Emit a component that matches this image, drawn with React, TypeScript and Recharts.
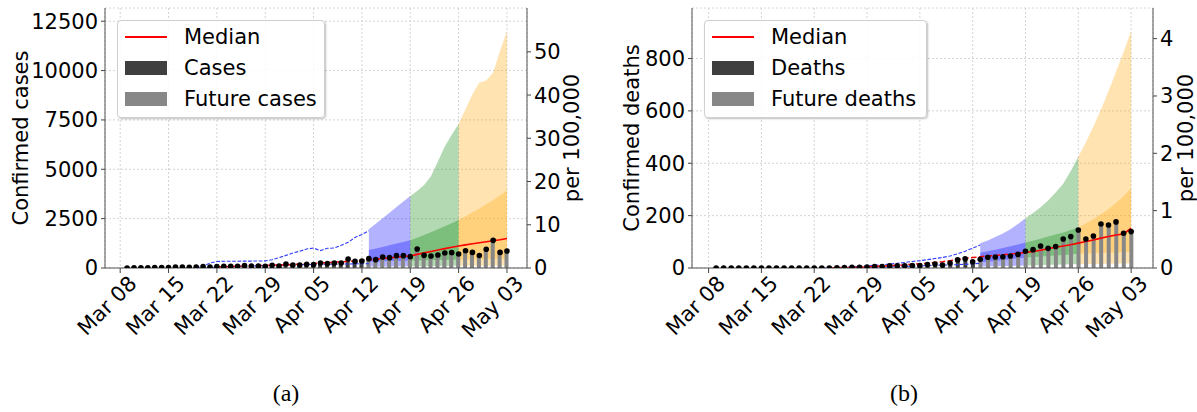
import React from "react";
import {
  ComposedChart,
  Area,
  Bar,
  Line,
  XAxis,
  YAxis,
  CartesianGrid,
  Label,
} from "recharts";

// Day 0 is Mar 08; observations run from Mar 09 (day 1) to May 03 (day 56)
const TICK_DAYS = [0, 7, 14, 21, 28, 35, 42, 49, 56];
const TICK_LABELS = ["Mar 08", "Mar 15", "Mar 22", "Mar 29", "Apr 05", "Apr 12", "Apr 19", "Apr 26", "May 03"];
const FIRST_DAY = 1;
const FORECAST_DAY = 36; // Apr 13
const MEDIAN_DAY = 42; // Apr 19
const POPULATION = 21900000;

// weekly forecast windows and their colours
const WEEKS = [
  { from: 36, to: 42, color: "#0000ff" },
  { from: 42, to: 49, color: "#008000" },
  { from: 49, to: 56, color: "#ffa500" },
];

const cases = [
  3, 5, 7, 10, 17, 17, 20, 50, 50, 35, 50, 68, 50, 68, 85, 85, 85, 118, 101, 101,
  85, 135, 101, 203, 152, 152, 186, 169, 253, 220, 253, 253, 456, 338, 355, 473, 422, 558, 524, 625,
  625, 575, 960, 642, 608, 659, 760, 777, 710, 870, 790, 630, 950, 1400, 790, 860,
];
const casesMedianPast = [
  60, 68, 76, 85, 95, 105, 115, 127, 140, 152, 165, 180, 195, 210, 228, 248, 268, 290, 312, 336,
  362, 390, 418, 447, 478, 510, 543, 578, 612,
]; // days 14..42
const casesMedian = [612, 690, 765, 840, 910, 980, 1050, 1115, 1170, 1225, 1280, 1330, 1380, 1430, 1490]; // days 42..56
const casesPrevHi = [
  0, 90, 250, 330, 340, 345, 345, 350, 350, 355, 360, 420, 520, 640, 760, 850, 960, 1010, 880, 1000,
  1010, 1150, 1300, 1550, 1700, 1890,
]; // days 11..36
const casesPrevLo = [
  0, 15, 35, 50, 65, 75, 85, 95, 105, 115, 125, 135, 145, 155, 160, 170, 175, 180, 185, 190,
  195, 200, 205, 210, 215, 220,
];
// forecast intervals, days 36..56
const casesHi95 = [1960, 2240, 2520, 2800, 3090, 3370, 3650, 3900, 4200, 4650, 5400, 6150, 6750, 7300, 8050, 8800, 9400, 9500, 9900, 11000, 12000];
const casesHi50 = [910, 990, 1070, 1150, 1240, 1320, 1400, 1530, 1670, 1810, 1960, 2110, 2270, 2430, 2620, 2820, 3020, 3230, 3450, 3680, 3920];
const casesLo50 = [330, 335, 345, 350, 360, 370, 380, 385, 390, 400, 405, 410, 420, 425, 430, 440, 445, 450, 455, 465, 470];
const casesLo95 = [70, 72, 75, 78, 80, 85, 90, 92, 95, 98, 100, 104, 108, 110, 112, 115, 118, 120, 122, 125, 128];

const deaths = [
  0, 0, 0, 0, 0, 0, 0, 0, 0, 0, 0, 0, 0, 0, 0, 0, 1, 2, 3, 3,
  4, 6, 6, 8, 8, 8, 9, 9, 13, 15, 11, 19, 31, 35, 24, 33, 41, 42, 43, 46,
  52, 64, 70, 84, 75, 82, 111, 120, 145, 111, 122, 168, 164, 176, 133, 139,
];
const deathsMedianPast = [
  0, 1, 1, 2, 3, 4, 6, 7, 9, 10, 12, 14, 16, 18, 21, 24, 28, 32, 36, 40,
  43, 46, 48, 51, 53, 56, 59,
]; // days 16..42
const deathsMedian = [59, 63, 68, 74, 79, 84, 89, 95, 101, 107, 114, 120, 126, 130, 152]; // days 42..56
const deathsPrevHi = [0, 1, 2, 3, 4, 6, 8, 10, 12, 15, 18, 21, 25, 28, 32, 36, 40, 46, 54, 64, 76, 88]; // days 15..36
const deathsPrevLo = [0, 0, 1, 1, 2, 2, 3, 3, 4, 4, 5, 6, 7, 8, 9, 10, 11, 12, 13, 14, 16, 18];
const deathsHi95 = [95, 105, 118, 132, 148, 168, 190, 210, 232, 258, 288, 322, 370, 425, 480, 540, 605, 675, 750, 825, 905];
const deathsHi50 = [58, 64, 70, 76, 83, 90, 97, 104, 112, 120, 128, 136, 145, 155, 170, 187, 205, 225, 248, 275, 305];
const deathsLo50 = [22, 24, 27, 30, 33, 36, 40, 42, 44, 46, 48, 50, 52, 54, 55, 56, 57, 58, 59, 60, 61];
const deathsLo95 = [6, 6, 7, 8, 8, 9, 10, 10, 11, 12, 12, 13, 14, 14, 15, 15, 16, 16, 17, 17, 18];

const FONT = "'DejaVu Sans', sans-serif";
const FONT_SIZE = 21;
const X_DOMAIN = [-2.2, 58.9];

type Series = {
  observed: number[];
  medianPast: number[];
  medianPastStart: number;
  median: number[];
  prevHi: number[];
  prevLo: number[];
  prevStart: number;
  hi95: number[];
  lo95: number[];
  hi50: number[];
  lo50: number[];
};

function buildRows(s: Series) {
  const rows: any[] = [];
  s.observed.forEach((v, i) => {
    const day = FIRST_DAY + i;
    const row: any = { day, value: v, perCapita: (v / POPULATION) * 1e5 };
    if (day < FORECAST_DAY) row.past = v;
    else row.future = v;
    const mp = day - s.medianPastStart;
    if (mp >= 0 && mp < s.medianPast.length) row.medianPast = s.medianPast[mp];
    const mf = day - MEDIAN_DAY;
    if (mf >= 0 && mf < s.median.length) row.median = s.median[mf];
    const pv = day - s.prevStart;
    if (pv >= 0 && pv < s.prevHi.length) {
      row.prevHi = s.prevHi[pv];
      row.prevLo = s.prevLo[pv];
    }
    const f = day - FORECAST_DAY;
    if (f >= 0) {
      WEEKS.forEach((w, k) => {
        if (day >= w.from && day <= w.to) {
          row[`outer${k}`] = [s.lo95[f], s.hi95[f]];
          row[`inner${k}`] = [s.lo50[f], s.hi50[f]];
        }
      });
    }
    rows.push(row);
  });
  return rows;
}

const caseRows = buildRows({
  observed: cases,
  medianPast: casesMedianPast,
  medianPastStart: 14,
  median: casesMedian,
  prevHi: casesPrevHi,
  prevLo: casesPrevLo,
  prevStart: 11,
  hi95: casesHi95,
  lo95: casesLo95,
  hi50: casesHi50,
  lo50: casesLo50,
});

const deathRows = buildRows({
  observed: deaths,
  medianPast: deathsMedianPast,
  medianPastStart: 16,
  median: deathsMedian,
  prevHi: deathsPrevHi,
  prevLo: deathsPrevLo,
  prevStart: 15,
  hi95: deathsHi95,
  lo95: deathsLo95,
  hi50: deathsHi50,
  lo50: deathsLo50,
});

function DateTick(props: any) {
  const { x, y, payload } = props;
  const idx = TICK_DAYS.indexOf(payload.value);
  return (
    <g transform={`translate(${x + 7},${y - 1})`}>
      <text
        x={0}
        y={0}
        textAnchor="end"
        dominantBaseline="hanging"
        transform="rotate(-45)"
        fontSize={FONT_SIZE}
        fontFamily={FONT}
        fill="#000"
      >
        {TICK_LABELS[idx]}
      </text>
    </g>
  );
}

function axisTitle(text: string, x: number) {
  return (props: any) => {
    const vb = props.viewBox;
    const cy = vb.y + vb.height / 2;
    return (
      <text
        x={x}
        y={cy}
        transform={`rotate(-90, ${x}, ${cy})`}
        textAnchor="middle"
        dominantBaseline="central"
        fontSize={FONT_SIZE}
        fontFamily={FONT}
        fill="#000"
      >
        {text}
      </text>
    );
  };
}

type PanelProps = {
  rows: any[];
  left: number;
  width: number;
  leftAxisWidth: number;
  rightAxisWidth: number;
  yMax: number;
  yTicks: number[];
  rightTicks: number[];
  yTitle: string;
  yTitleX: number;
  rightTitleX: number;
  legendNames: string[];
  legendWidth: number;
};

function Legendbox({ names, left, width }: { names: string[]; left: number; width: number }) {
  const swatch = (i: number) => {
    if (i === 0) return <div style={{ width: 42, height: 2, background: "#ff0000" }} />;
    return <div style={{ width: 42, height: 14, background: i === 1 ? "#3f3f3f" : "#878787" }} />;
  };
  return (
    <div
      style={{
        position: "absolute",
        left,
        top: 20,
        width,
        height: 98,
        boxSizing: "border-box",
        border: "1px solid #d0d0d0",
        borderRadius: 4,
        background: "rgba(255,255,255,0.85)",
        boxShadow: "1px 1px 2px rgba(0,0,0,0.25)",
        fontFamily: FONT,
        fontSize: FONT_SIZE,
        color: "#000",
      }}
    >
      {names.map((n, i) => (
        <div
          key={n}
          style={{ position: "absolute", left: 7, top: 4 + i * 31, height: 24, display: "flex", alignItems: "center" }}
        >
          {swatch(i)}
          <span style={{ marginLeft: 17, whiteSpace: "nowrap" }}>{n}</span>
        </div>
      ))}
    </div>
  );
}

function Panel(p: PanelProps) {
  const rightMax = (p.yMax / POPULATION) * 1e5;
  const tickStyle = { fontSize: FONT_SIZE, fontFamily: FONT, fill: "#000" };
  return (
    <div style={{ position: "absolute", left: p.left, top: 0, width: p.width, height: 360 }}>
      <ComposedChart
        width={p.width}
        height={360}
        data={p.rows}
        margin={{ top: 8, right: 0, bottom: 0, left: 0 }}
      >
        <CartesianGrid yAxisId="left" stroke="#d4d4d4" strokeDasharray="2 2" />
        <XAxis
          dataKey="day"
          type="number"
          domain={X_DOMAIN}
          ticks={TICK_DAYS}
          interval={0}
          allowDataOverflow
          height={92}
          tickSize={5}
          tickMargin={2}
          tickLine={{ stroke: "#444" }}
          axisLine={{ stroke: "#555" }}
          tick={<DateTick />}
        />
        <XAxis xAxisId="top" orientation="top" dataKey="day" type="number" domain={X_DOMAIN} allowDataOverflow height={0} tick={false} tickLine={false} axisLine={{ stroke: "#555" }} />
        <YAxis
          yAxisId="left"
          type="number"
          domain={[0, p.yMax]}
          ticks={p.yTicks}
          interval={0}
          allowDataOverflow
          width={p.leftAxisWidth}
          tickSize={4}
          tickMargin={3}
          tickLine={{ stroke: "#444" }}
          axisLine={{ stroke: "#555" }}
          tick={tickStyle}
        >
          <Label content={axisTitle(p.yTitle, p.yTitleX)} />
        </YAxis>
        <YAxis
          yAxisId="right"
          orientation="right"
          type="number"
          domain={[0, rightMax]}
          ticks={p.rightTicks}
          interval={0}
          allowDataOverflow
          width={p.rightAxisWidth}
          tickSize={4}
          tickMargin={3}
          tickLine={{ stroke: "#444" }}
          axisLine={{ stroke: "#555" }}
          tick={tickStyle}
        >
          <Label content={axisTitle("per 100,000", p.rightTitleX)} />
        </YAxis>

        {WEEKS.map((w, k) => (
          <Area
            key={`o${k}`}
            yAxisId="left"
            type="linear"
            dataKey={`outer${k}`}
            stroke="none"
            fill={w.color}
            fillOpacity={0.3}
            dot={false}
            activeDot={false}
            isAnimationActive={false}
          />
        ))}
        {WEEKS.map((w, k) => (
          <Area
            key={`i${k}`}
            yAxisId="left"
            type="linear"
            dataKey={`inner${k}`}
            stroke="none"
            fill={w.color}
            fillOpacity={0.3}
            dot={false}
            activeDot={false}
            isAnimationActive={false}
          />
        ))}

        <Bar yAxisId="left" dataKey="past" stackId="obs" barSize={4} fill="#3f3f3f" isAnimationActive={false} />
        <Bar yAxisId="left" dataKey="future" stackId="obs" barSize={4} fill="#878787" isAnimationActive={false} />

        <Line yAxisId="left" type="linear" dataKey="prevHi" stroke="#2f3dff" strokeWidth={1.1} strokeDasharray="3.7 1.6" dot={false} activeDot={false} isAnimationActive={false} />
        <Line yAxisId="left" type="linear" dataKey="prevLo" stroke="#2f3dff" strokeWidth={1.1} strokeDasharray="3.7 1.6" dot={false} activeDot={false} isAnimationActive={false} />
        <Line yAxisId="left" type="linear" dataKey="medianPast" stroke="#ff0000" strokeWidth={1.5} strokeDasharray="5.5 2.4" dot={false} activeDot={false} isAnimationActive={false} />
        <Line yAxisId="left" type="linear" dataKey="median" stroke="#ff0000" strokeWidth={1.6} dot={false} activeDot={false} isAnimationActive={false} />
        <Line yAxisId="right" type="linear" dataKey="perCapita" stroke="none" dot={false} activeDot={false} isAnimationActive={false} />
        <Line
          yAxisId="left"
          type="linear"
          dataKey="value"
          stroke="none"
          dot={{ r: 2.8, fill: "#000", stroke: "none" }}
          activeDot={false}
          isAnimationActive={false}
        />
      </ComposedChart>
      <Legendbox names={p.legendNames} left={p.leftAxisWidth + 12} width={p.legendWidth} />
    </div>
  );
}

const captionStyle: React.CSSProperties = {
  position: "absolute",
  top: 380,
  width: 60,
  textAlign: "center",
  fontFamily: "'Liberation Serif', serif",
  fontSize: 24,
  color: "#000",
};

export default function App() {
  return (
    <div style={{ position: "absolute", left: 0, top: 0, width: 1197, height: 412, background: "#fff", overflow: "hidden" }}>
      <Panel
        rows={caseRows}
        left={0}
        width={600}
        leftAxisWidth={105}
        rightAxisWidth={73}
        yMax={13170}
        yTicks={[0, 2500, 5000, 7500, 10000, 12500]}
        rightTicks={[0, 10, 20, 30, 40, 50]}
        yTitle="Confirmed cases"
        yTitleX={21}
        rightTitleX={572}
        legendNames={["Median", "Cases", "Future cases"]}
        legendWidth={208}
      />
      <Panel
        rows={deathRows}
        left={590}
        width={607}
        leftAxisWidth={102}
        rightAxisWidth={44}
        yMax={993}
        yTicks={[0, 200, 400, 600, 800]}
        rightTicks={[0, 1, 2, 3, 4]}
        yTitle="Confirmed deaths"
        yTitleX={42}
        rightTitleX={596}
        legendNames={["Median", "Deaths", "Future deaths"]}
        legendWidth={223}
      />
      <div style={{ ...captionStyle, left: 256 }}>(a)</div>
      <div style={{ ...captionStyle, left: 874 }}>(b)</div>
    </div>
  );
}
